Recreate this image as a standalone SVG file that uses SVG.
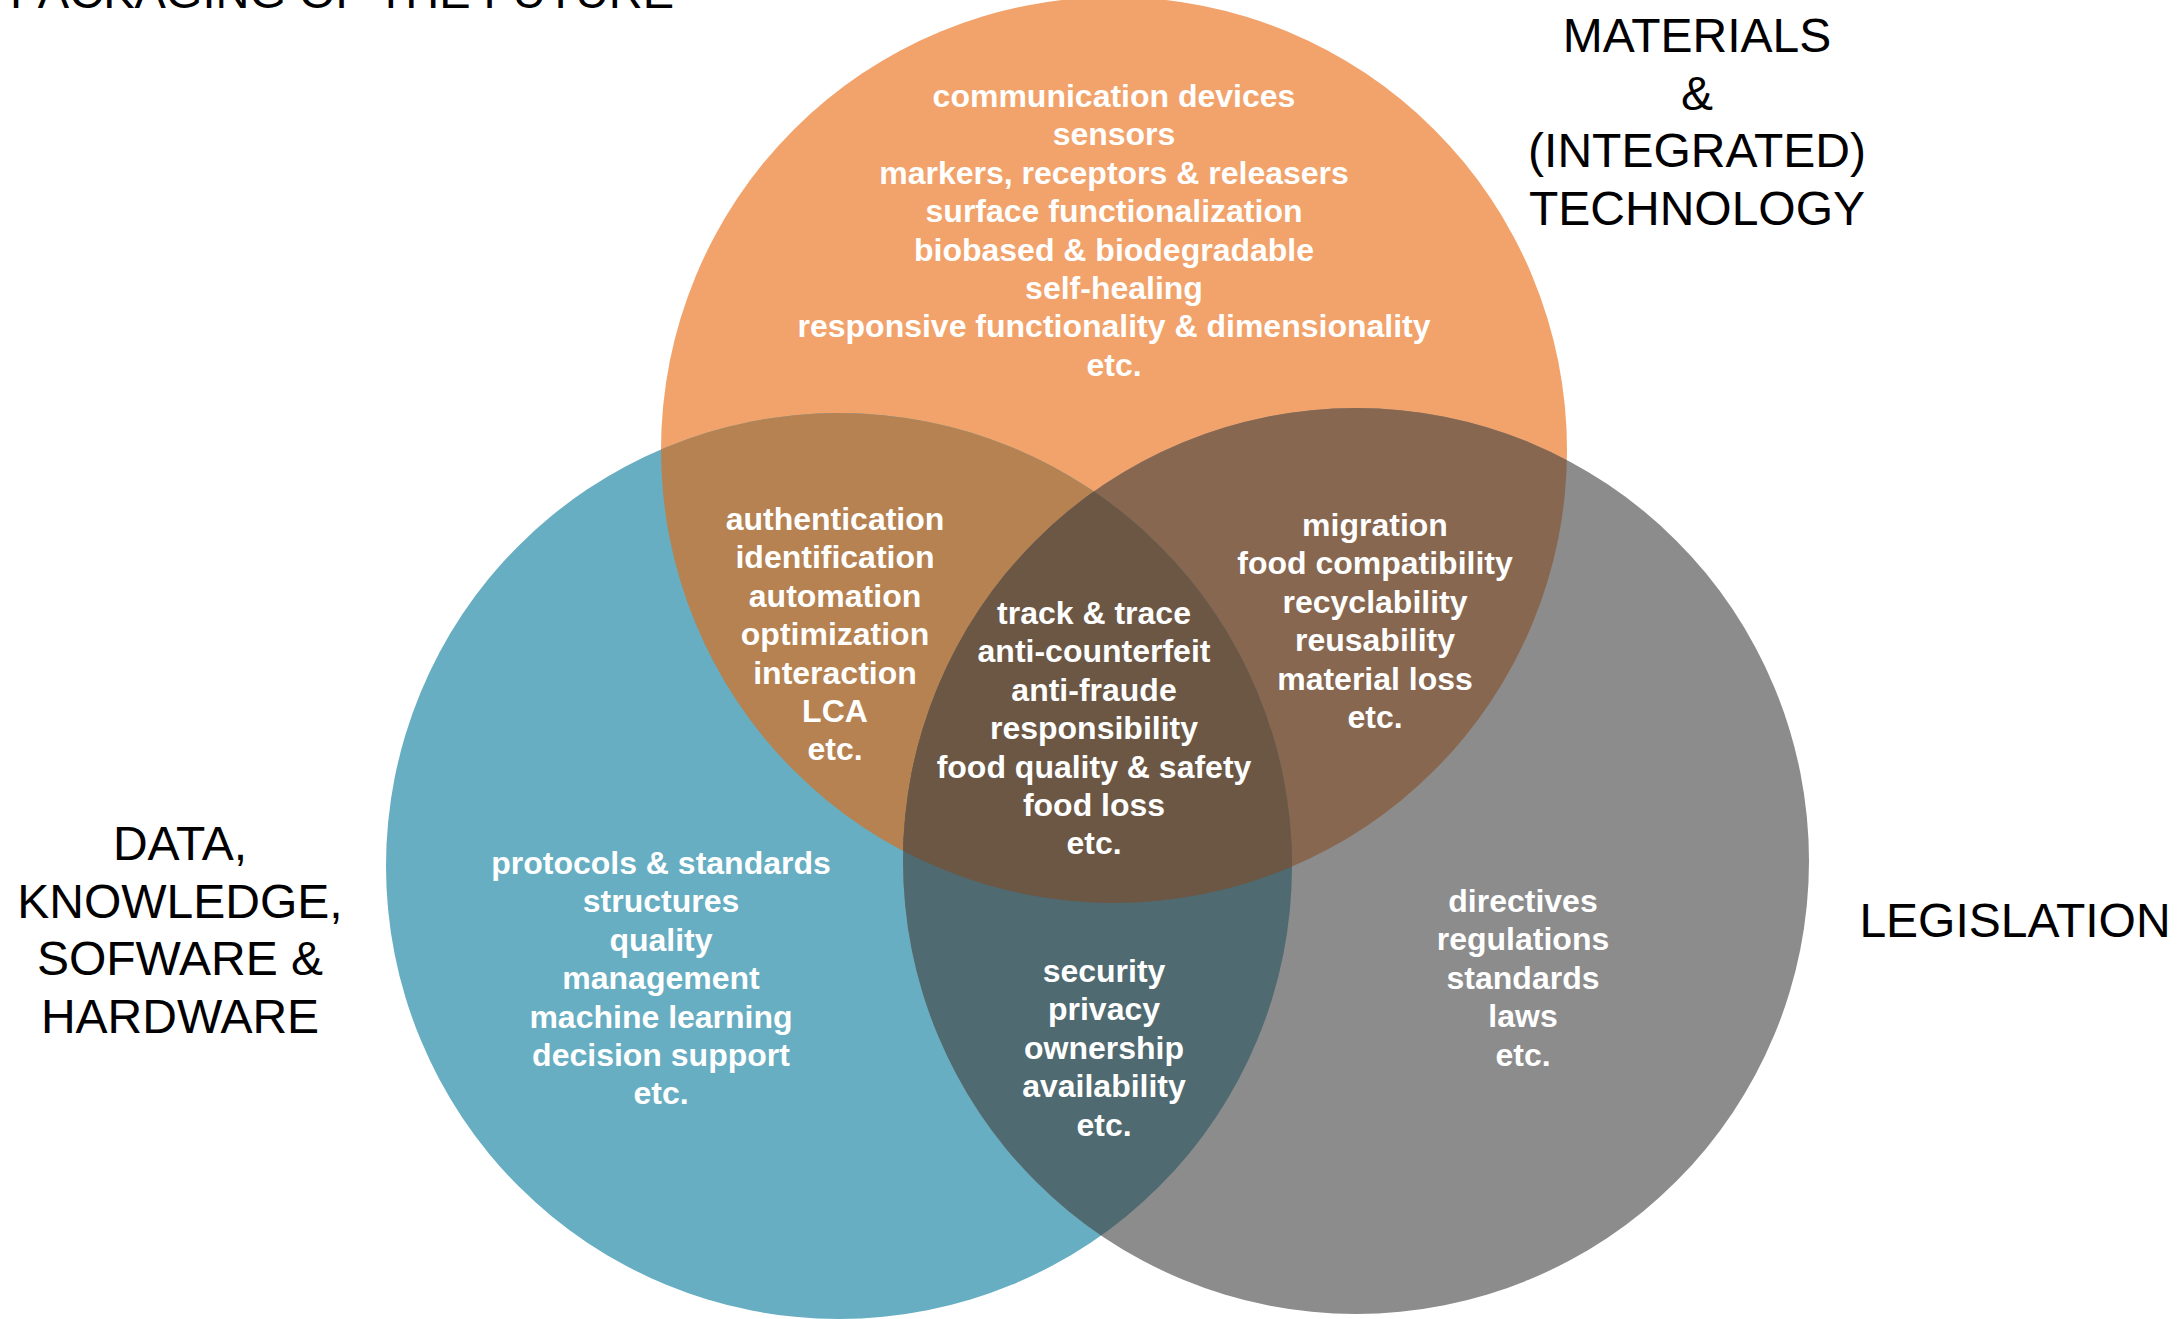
<svg xmlns="http://www.w3.org/2000/svg" width="2177" height="1319" viewBox="0 0 2177 1319">
<style>
.w{font-family:"Liberation Sans",Arial,sans-serif;font-weight:bold;font-size:32px;fill:#ffffff;text-anchor:middle}
.k{font-family:"Liberation Sans",Arial,sans-serif;font-size:48px;fill:#000000;text-anchor:middle}
</style>
<defs>
<clipPath id="cO"><circle cx="1114" cy="450" r="453"/></clipPath>
<clipPath id="cB"><circle cx="839" cy="866" r="453"/></clipPath>
</defs>
<rect width="2177" height="1319" fill="#ffffff"/>
<g id="circles">
<circle id="orange" cx="1114" cy="450" r="453" fill="#F2A36B"/>
<circle id="blue" cx="839" cy="866" r="453" fill="#67AEC2"/>
<circle id="gray" cx="1356" cy="861" r="453" fill="#8C8C8C"/>
<circle id="orange-blue" cx="839" cy="866" r="453" fill="#B68252" clip-path="url(#cO)"/>
<circle id="orange-gray" cx="1356" cy="861" r="453" fill="#886750" clip-path="url(#cO)"/>
<circle id="blue-gray" cx="1356" cy="861" r="453" fill="#4F6A70" clip-path="url(#cB)"/>
<g clip-path="url(#cO)"><circle id="all-three" cx="1356" cy="861" r="453" fill="#6C5745" clip-path="url(#cB)"/></g>
</g>
<g id="connectors"></g>
<g id="title"><text x="10" y="8" font-family="Liberation Sans, Arial, sans-serif" font-size="47" fill="#000">PACKAGING OF THE FUTURE</text></g>
<g id="label-materials"><text class="k">
<tspan x="1697" y="52">MATERIALS</tspan><tspan x="1697" y="109.6">&amp;</tspan><tspan x="1697" y="167.2">(INTEGRATED)</tspan><tspan x="1697" y="224.8">TECHNOLOGY</tspan></text></g>
<g id="label-data"><text class="k">
<tspan x="180" y="860">DATA,</tspan><tspan x="180" y="917.6">KNOWLEDGE,</tspan><tspan x="180" y="975.2">SOFWARE &amp;</tspan><tspan x="180" y="1032.8">HARDWARE</tspan></text></g>
<g id="label-legislation"><text class="k" x="2015" y="937">LEGISLATION</text></g>
<g id="node-materials"><text class="w">
<tspan x="1114" y="107">communication devices</tspan><tspan x="1114" y="145.4">sensors</tspan><tspan x="1114" y="183.8">markers, receptors &amp; releasers</tspan><tspan x="1114" y="222.2">surface functionalization</tspan><tspan x="1114" y="260.6">biobased &amp; biodegradable</tspan><tspan x="1114" y="299">self-healing</tspan><tspan x="1114" y="337.4">responsive functionality &amp; dimensionality</tspan><tspan x="1114" y="375.8">etc.</tspan></text></g>
<g id="node-materials-data"><text class="w">
<tspan x="835" y="530">authentication</tspan><tspan x="835" y="568.4">identification</tspan><tspan x="835" y="606.8">automation</tspan><tspan x="835" y="645.2">optimization</tspan><tspan x="835" y="683.6">interaction</tspan><tspan x="835" y="722">LCA</tspan><tspan x="835" y="760.4">etc.</tspan></text></g>
<g id="node-center"><text class="w">
<tspan x="1094" y="624">track &amp; trace</tspan><tspan x="1094" y="662.4">anti-counterfeit</tspan><tspan x="1094" y="700.8">anti-fraude</tspan><tspan x="1094" y="739.2">responsibility</tspan><tspan x="1094" y="777.6">food quality &amp; safety</tspan><tspan x="1094" y="816">food loss</tspan><tspan x="1094" y="854.4">etc.</tspan></text></g>
<g id="node-materials-legislation"><text class="w">
<tspan x="1375" y="536">migration</tspan><tspan x="1375" y="574.4">food compatibility</tspan><tspan x="1375" y="612.8">recyclability</tspan><tspan x="1375" y="651.2">reusability</tspan><tspan x="1375" y="689.6">material loss</tspan><tspan x="1375" y="728">etc.</tspan></text></g>
<g id="node-data"><text class="w">
<tspan x="661" y="874">protocols &amp; standards</tspan><tspan x="661" y="912.4">structures</tspan><tspan x="661" y="950.8">quality</tspan><tspan x="661" y="989.2">management</tspan><tspan x="661" y="1027.6">machine learning</tspan><tspan x="661" y="1066">decision support</tspan><tspan x="661" y="1104.4">etc.</tspan></text></g>
<g id="node-data-legislation"><text class="w">
<tspan x="1104" y="982">security</tspan><tspan x="1104" y="1020.4">privacy</tspan><tspan x="1104" y="1058.8">ownership</tspan><tspan x="1104" y="1097.2">availability</tspan><tspan x="1104" y="1135.6">etc.</tspan></text></g>
<g id="node-legislation"><text class="w">
<tspan x="1523" y="912">directives</tspan><tspan x="1523" y="950.4">regulations</tspan><tspan x="1523" y="988.8">standards</tspan><tspan x="1523" y="1027.2">laws</tspan><tspan x="1523" y="1065.6">etc.</tspan></text></g>
</svg>
